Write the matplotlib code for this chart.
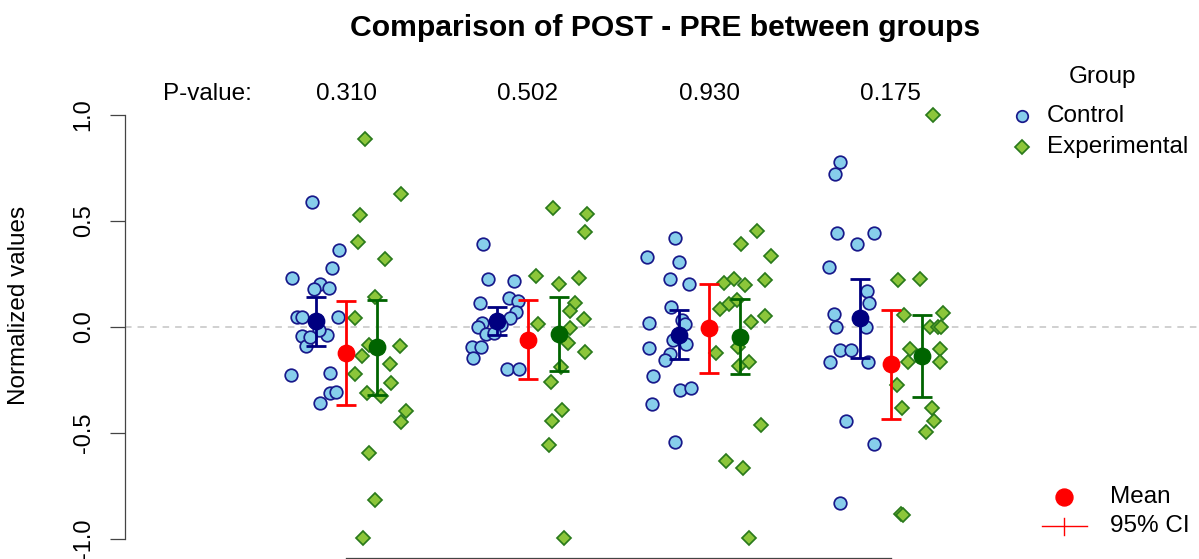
import numpy as np
import matplotlib
matplotlib.use("Agg")
import matplotlib.pyplot as plt
from matplotlib.lines import Line2D

plt.rcParams['font.family'] = ['Liberation Sans', 'DejaVu Sans']

# ---- data ----
positions = [1, 2, 3, 4]
p_values = ["0.310", "0.502", "0.930", "0.175"]

ctrl_vals = [
    [0.588, 0.362, 0.278, 0.230, 0.204, 0.179, 0.186, 0.046, 0.046, 0.049,
     -0.041, -0.090, -0.039, -0.226, -0.218, -0.310, -0.307, -0.357, -0.014, -0.045],
    [0.390, 0.226, 0.219, 0.115, 0.138, 0.123, 0.072, 0.044, 0.020, 0.000,
     -0.035, -0.094, -0.094, -0.148, -0.197, -0.200, 0.010, -0.030],
    [0.418, 0.332, 0.305, 0.225, 0.203, 0.093, 0.033, 0.020, 0.014, -0.061,
     -0.079, -0.101, -0.129, -0.156, -0.231, -0.297, -0.286, -0.363, -0.541],
    [0.780, 0.722, 0.445, 0.445, 0.390, 0.281, 0.170, 0.115, 0.060, 0.002,
     -0.001, -0.108, -0.108, -0.164, -0.164, -0.442, -0.553, -0.829],
]
ctrl_jitter = [
    [-0.188, -0.042, -0.082, -0.298, -0.145, -0.181, -0.097, -0.271, -0.246, -0.048,
     -0.246, -0.225, -0.108, -0.304, -0.092, -0.088, -0.057, -0.143, -0.152, -0.198],
    [-0.246, -0.218, -0.077, -0.265, -0.104, -0.055, -0.068, -0.099, -0.254, -0.273,
     -0.229, -0.309, -0.257, -0.301, -0.117, -0.049, -0.148, -0.187],
    [-0.188, -0.341, -0.166, -0.216, -0.110, -0.210, -0.152, -0.335, -0.137, -0.202,
     -0.130, -0.330, -0.216, -0.243, -0.308, -0.161, -0.101, -0.317, -0.188],
    [-0.282, -0.306, -0.297, -0.093, -0.187, -0.342, -0.130, -0.123, -0.315, -0.301,
     -0.139, -0.282, -0.218, -0.337, -0.126, -0.246, -0.095, -0.280],
]
exp_vals = [
    [0.885, 0.626, 0.527, 0.403, 0.319, 0.140, 0.044, -0.085, -0.088, -0.137,
     -0.176, -0.223, -0.266, -0.311, -0.325, -0.396, -0.448, -0.593, -0.816, -0.994],
    [0.563, 0.533, 0.447, 0.242, 0.201, 0.230, 0.115, 0.077, 0.036, 0.014,
     -0.005, -0.077, -0.118, -0.187, -0.259, -0.390, -0.443, -0.557, -0.994],
    [0.453, 0.390, 0.335, 0.222, 0.209, 0.228, 0.198, 0.108, 0.083, 0.127,
     0.052, 0.022, -0.093, -0.121, -0.164, -0.183, -0.462, -0.631, -0.664, -0.994],
    [1.000, 0.222, 0.225, 0.057, 0.065, 0.002, -0.001, 0.002, -0.105, -0.105,
     -0.164, -0.164, -0.274, -0.384, -0.381, -0.442, -0.494, -0.884, -0.887],
]
exp_jitter = [
    [0.103, 0.301, 0.077, 0.062, 0.213, 0.158, 0.049, 0.126, 0.297, 0.086,
     0.240, 0.046, 0.243, 0.114, 0.192, 0.330, 0.301, 0.123, 0.159, 0.093],
    [0.139, 0.323, 0.313, 0.046, 0.172, 0.284, 0.258, 0.231, 0.308, 0.057,
     0.231, 0.221, 0.313, 0.180, 0.125, 0.188, 0.134, 0.115, 0.198],
    [0.260, 0.172, 0.339, 0.306, 0.081, 0.136, 0.199, 0.108, 0.059, 0.150,
     0.309, 0.232, 0.159, 0.037, 0.218, 0.165, 0.287, 0.092, 0.187, 0.220],
    [0.231, 0.038, 0.158, 0.075, 0.286, 0.218, 0.258, 0.276, 0.103, 0.271,
     0.093, 0.273, 0.035, 0.062, 0.225, 0.236, 0.191, 0.057, 0.066],
]

ctrl_mean = [0.028, 0.030, -0.038, 0.041]
ctrl_lo = [-0.088, -0.039, -0.152, -0.148]
ctrl_hi = [0.141, 0.096, 0.080, 0.226]
exp_mean = [-0.096, -0.033, -0.046, -0.135]
exp_lo = [-0.319, -0.208, -0.223, -0.329]
exp_hi = [0.126, 0.143, 0.134, 0.055]
diff_mean = [-0.124, -0.061, -0.006, -0.176]
diff_lo = [-0.368, -0.247, -0.215, -0.436]
diff_hi = [0.123, 0.127, 0.201, 0.080]

# ---- figure ----
W, H = 1199, 559
fig = plt.figure(figsize=(W / 100, H / 100), dpi=100)
ax = fig.add_axes([125 / W, (H - 557.7) / H, 1078 / W, 503.7 / H])
ax.set_xlim(-0.22, 5.72)
ax.set_ylim(-1.088, 1.288)

C_FACE, C_EDGE = "#87CEEB", "#18188a"
E_FACE, E_EDGE = "#8cc63a", "#2a7a1c"
FS = 17.5

ax.axhline(0, color="#c4c4c4", lw=1.1, ls=(0, (4.3, 3.9)), zorder=1)

for g, p in enumerate(positions):
    ax.scatter(p + np.array(ctrl_jitter[g]), ctrl_vals[g], s=82, marker="o",
               facecolor=C_FACE, edgecolor=C_EDGE, linewidth=1.25, zorder=2)
for g, p in enumerate(positions):
    ax.plot(p + np.array(exp_jitter[g]), exp_vals[g], "D", ms=7.6,
            mfc=E_FACE, mec=E_EDGE, mew=1.25, zorder=3)

pos = np.array(positions, dtype=float)
off = 0.17
for x, m, lo, hi, col in [(pos - off, ctrl_mean, ctrl_lo, ctrl_hi, "#000080"),
                          (pos, diff_mean, diff_lo, diff_hi, "#ff0000"),
                          (pos + off, exp_mean, exp_lo, exp_hi, "#006400")]:
    m = np.array(m)
    ax.errorbar(x, m, yerr=[m - np.array(lo), np.array(hi) - m], fmt="o",
                color=col, ms=11.8, elinewidth=2.0, capsize=7.2, capthick=2.0, zorder=5)

# axes styling (R-like)
for s in ["top", "right"]:
    ax.spines[s].set_visible(False)
ax.spines["left"].set_bounds(-1, 1)
ax.spines["bottom"].set_bounds(1, 4)
for s in ["left", "bottom"]:
    ax.spines[s].set_color("#444444")
    ax.spines[s].set_linewidth(0.9)
ax.set_xticks(positions)
ax.set_xticklabels([""] * 4)
ax.set_yticks([-1, -0.5, 0, 0.5, 1])
ax.set_yticklabels(["-1.0", "-0.5", "0.0", "0.5", "1.0"], rotation=90, va="center",
                   fontsize=17)
ax.tick_params(axis="both", length=10.8, width=0.9, color="#444444", pad=11)
ax.patch.set_alpha(0)

fig.text(19 / W, 1 - 305 / H, "Normalized values", rotation=90, ha="center",
         va="center", fontsize=FS)
fig.text(665 / W, 1 - 28 / H, "Comparison of POST - PRE between groups",
         ha="center", va="center", fontsize=21.7, fontweight="bold")

# p-values
ax.text(163 / W, 1 - 94 / H, "P-value:", transform=fig.transFigure, ha="left",
        va="center", fontsize=FS)
for p, pv in zip(positions, p_values):
    ax.text(p, 1.1, pv, ha="center", va="center", fontsize=FS, clip_on=False)


def fx(x, y):
    return x / W, 1 - y / H


# group legend
fig.text(*fx(1102, 77), "Group", ha="center", va="center", fontsize=FS)
fig.add_artist(Line2D(*zip(fx(1022, 116)), marker="o", ms=8.3, mfc=C_FACE, mec=C_EDGE,
                      mew=1.25, transform=fig.transFigure))
fig.text(*fx(1047, 116), "Control", ha="left", va="center", fontsize=FS)
fig.add_artist(Line2D(*zip(fx(1022, 147)), marker="D", ms=7.6, mfc=E_FACE, mec=E_EDGE,
                      mew=1.25, transform=fig.transFigure))
fig.text(*fx(1047, 147), "Experimental", ha="left", va="center", fontsize=FS)

# mean / CI legend
fig.add_artist(Line2D(*zip(fx(1064, 497)), marker="o", ms=12.2, color="#ff0000",
                      transform=fig.transFigure))
fig.text(*fx(1110, 497), "Mean", ha="left", va="center", fontsize=FS)
fig.add_artist(Line2D(*zip(fx(1042, 526), fx(1087, 526)), color="#ff0000", lw=1.0,
                      transform=fig.transFigure))
fig.add_artist(Line2D(*zip(fx(1064, 518), fx(1064, 535)), color="#ff0000", lw=1.0,
                      transform=fig.transFigure))
fig.text(*fx(1110, 526), "95% CI", ha="left", va="center", fontsize=FS)

fig.savefig("out.png", dpi=100)
